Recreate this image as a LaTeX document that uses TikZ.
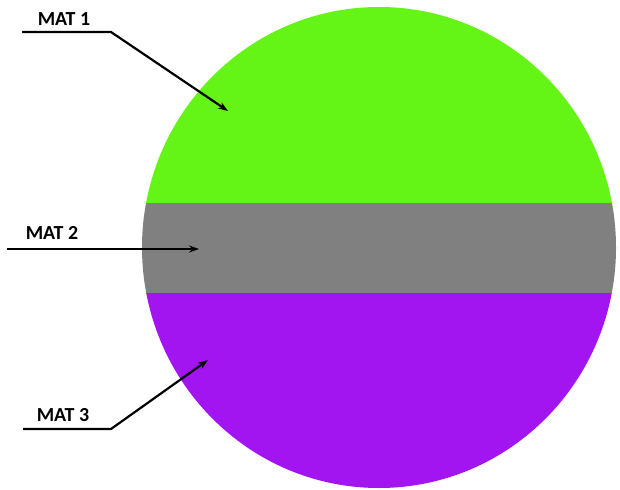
\documentclass[tikz,border=0pt]{standalone}
\usepackage{fontspec}
\setmainfont{Carlito}
\usetikzlibrary{arrows.meta}
\definecolor{matgreen}{RGB}{100,244,22}
\definecolor{matgray}{RGB}{128,128,128}
\definecolor{matpurple}{RGB}{162,20,240}

\begin{document}
\begin{tikzpicture}[x=1bp,y=-1bp,line width=2.2bp,>={Stealth[length=10bp,width=7bp]},
  matlabel/.style={font=\bfseries\fontsize{20}{20}\selectfont,inner sep=0pt}]
\useasboundingbox (0,0) rectangle (620,490);
% layer boundaries
\def\topcut{203}
\def\botcut{293}
% ---------- layers, clipped to the disc ----------
\begin{scope}
  \clip (379,247.5) ellipse [x radius=237, y radius=240.5];
  \fill[matgreen] (130,0) rectangle (630,\topcut);
  \fill[matgray] (130,\topcut) rectangle (630,\botcut);
  \fill[matpurple] (130,\botcut) rectangle (630,495);
\end{scope}
% ---------- labels ----------
\node[matlabel] (mat1) at (64,19) {MAT 1};
\node[matlabel] (mat2) at (52,233) {MAT 2};
\node[matlabel] (mat3) at (63,415) {MAT 3};
% ---------- leader lines ----------
\coordinate (k1a) at (22,32);
\coordinate (k1b) at (111,32);
\coordinate (t1) at (228,111);
\coordinate (k2a) at (7,249);
\coordinate (t2) at (199,249);
\coordinate (k3a) at (23,429);
\coordinate (k3b) at (111,429);
\coordinate (t3) at (208,360);
\draw[->] (k1a) -- (k1b) -- (t1);
\draw[->] (k2a) -- (t2);
\draw[->] (k3a) -- (k3b) -- (t3);
\end{tikzpicture}
\end{document}
